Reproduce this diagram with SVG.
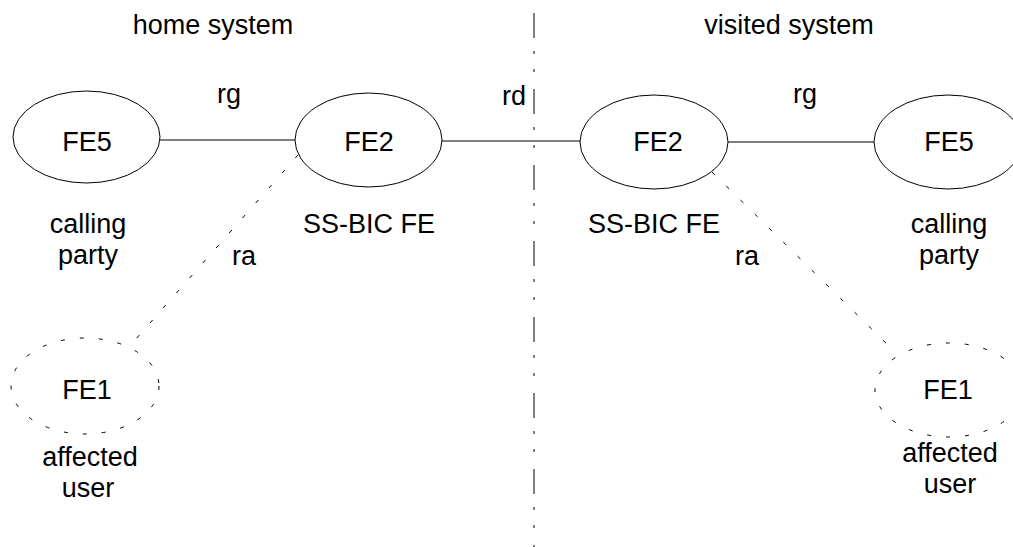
<svg xmlns="http://www.w3.org/2000/svg" width="1013" height="547" viewBox="0 0 1013 547">
<style>
text{font-family:"Liberation Sans",Arial,sans-serif;font-size:27px;fill:#000;text-anchor:middle}
.fe{fill:none;stroke:#000;stroke-width:1}
.dot{fill:none;stroke:#000;stroke-width:1;stroke-dasharray:4 15}
.ln{stroke:#000;stroke-width:1;fill:none}
.dl{stroke:#000;stroke-width:1;fill:none;stroke-dasharray:4 16}
.sep{stroke:#000;stroke-width:1;fill:none;stroke-dasharray:25 13 3 15 3 17}
</style>
<rect width="1013" height="547" fill="#fff"/>
<g id="labels">
<text x="213" y="34">home system</text>
<text x="789" y="34">visited system</text>
</g>
<g id="connectors">
<line class="sep" x1="534" y1="13" x2="534" y2="547"/>
<line class="ln" x1="160" y1="140" x2="295" y2="140"/>
<line class="ln" x1="442" y1="141" x2="580" y2="141"/>
<line class="ln" x1="728" y1="142" x2="874" y2="142"/>
<line class="dl" x1="298" y1="155" x2="128" y2="348"/>
<line class="dl" x1="712" y1="172" x2="893" y2="350"/>
<text x="229" y="103">rg</text>
<text x="514" y="105">rd</text>
<text x="805" y="103">rg</text>
<text x="244" y="265">ra</text>
<text x="747" y="265">ra</text>
</g>
<g id="fe5-home">
<ellipse class="fe" cx="86.5" cy="137" rx="73.5" ry="46"/>
<text x="87" y="151">FE5</text>
<text x="88" y="233">calling</text>
<text x="88" y="264">party</text>
</g>
<g id="fe2-home">
<ellipse class="fe" cx="368.5" cy="140" rx="73.5" ry="47"/>
<text x="369" y="151">FE2</text>
<text x="369" y="233">SS-BIC FE</text>
</g>
<g id="fe2-visited">
<ellipse class="fe" cx="654" cy="142" rx="74" ry="47"/>
<text x="658" y="151">FE2</text>
<text x="654" y="233">SS-BIC FE</text>
</g>
<g id="fe5-visited">
<ellipse class="fe" cx="948" cy="142" rx="74" ry="47"/>
<text x="949" y="151">FE5</text>
<text x="949" y="233">calling</text>
<text x="949" y="264">party</text>
</g>
<g id="fe1-home">
<ellipse class="dot" cx="85" cy="386" rx="74" ry="48"/>
<text x="87" y="399">FE1</text>
<text x="90" y="466">affected</text>
<text x="88" y="497">user</text>
</g>
<g id="fe1-visited">
<ellipse class="dot" cx="949" cy="390" rx="74" ry="47"/>
<text x="948" y="399">FE1</text>
<text x="950" y="462">affected</text>
<text x="950" y="493">user</text>
</g>
</svg>
